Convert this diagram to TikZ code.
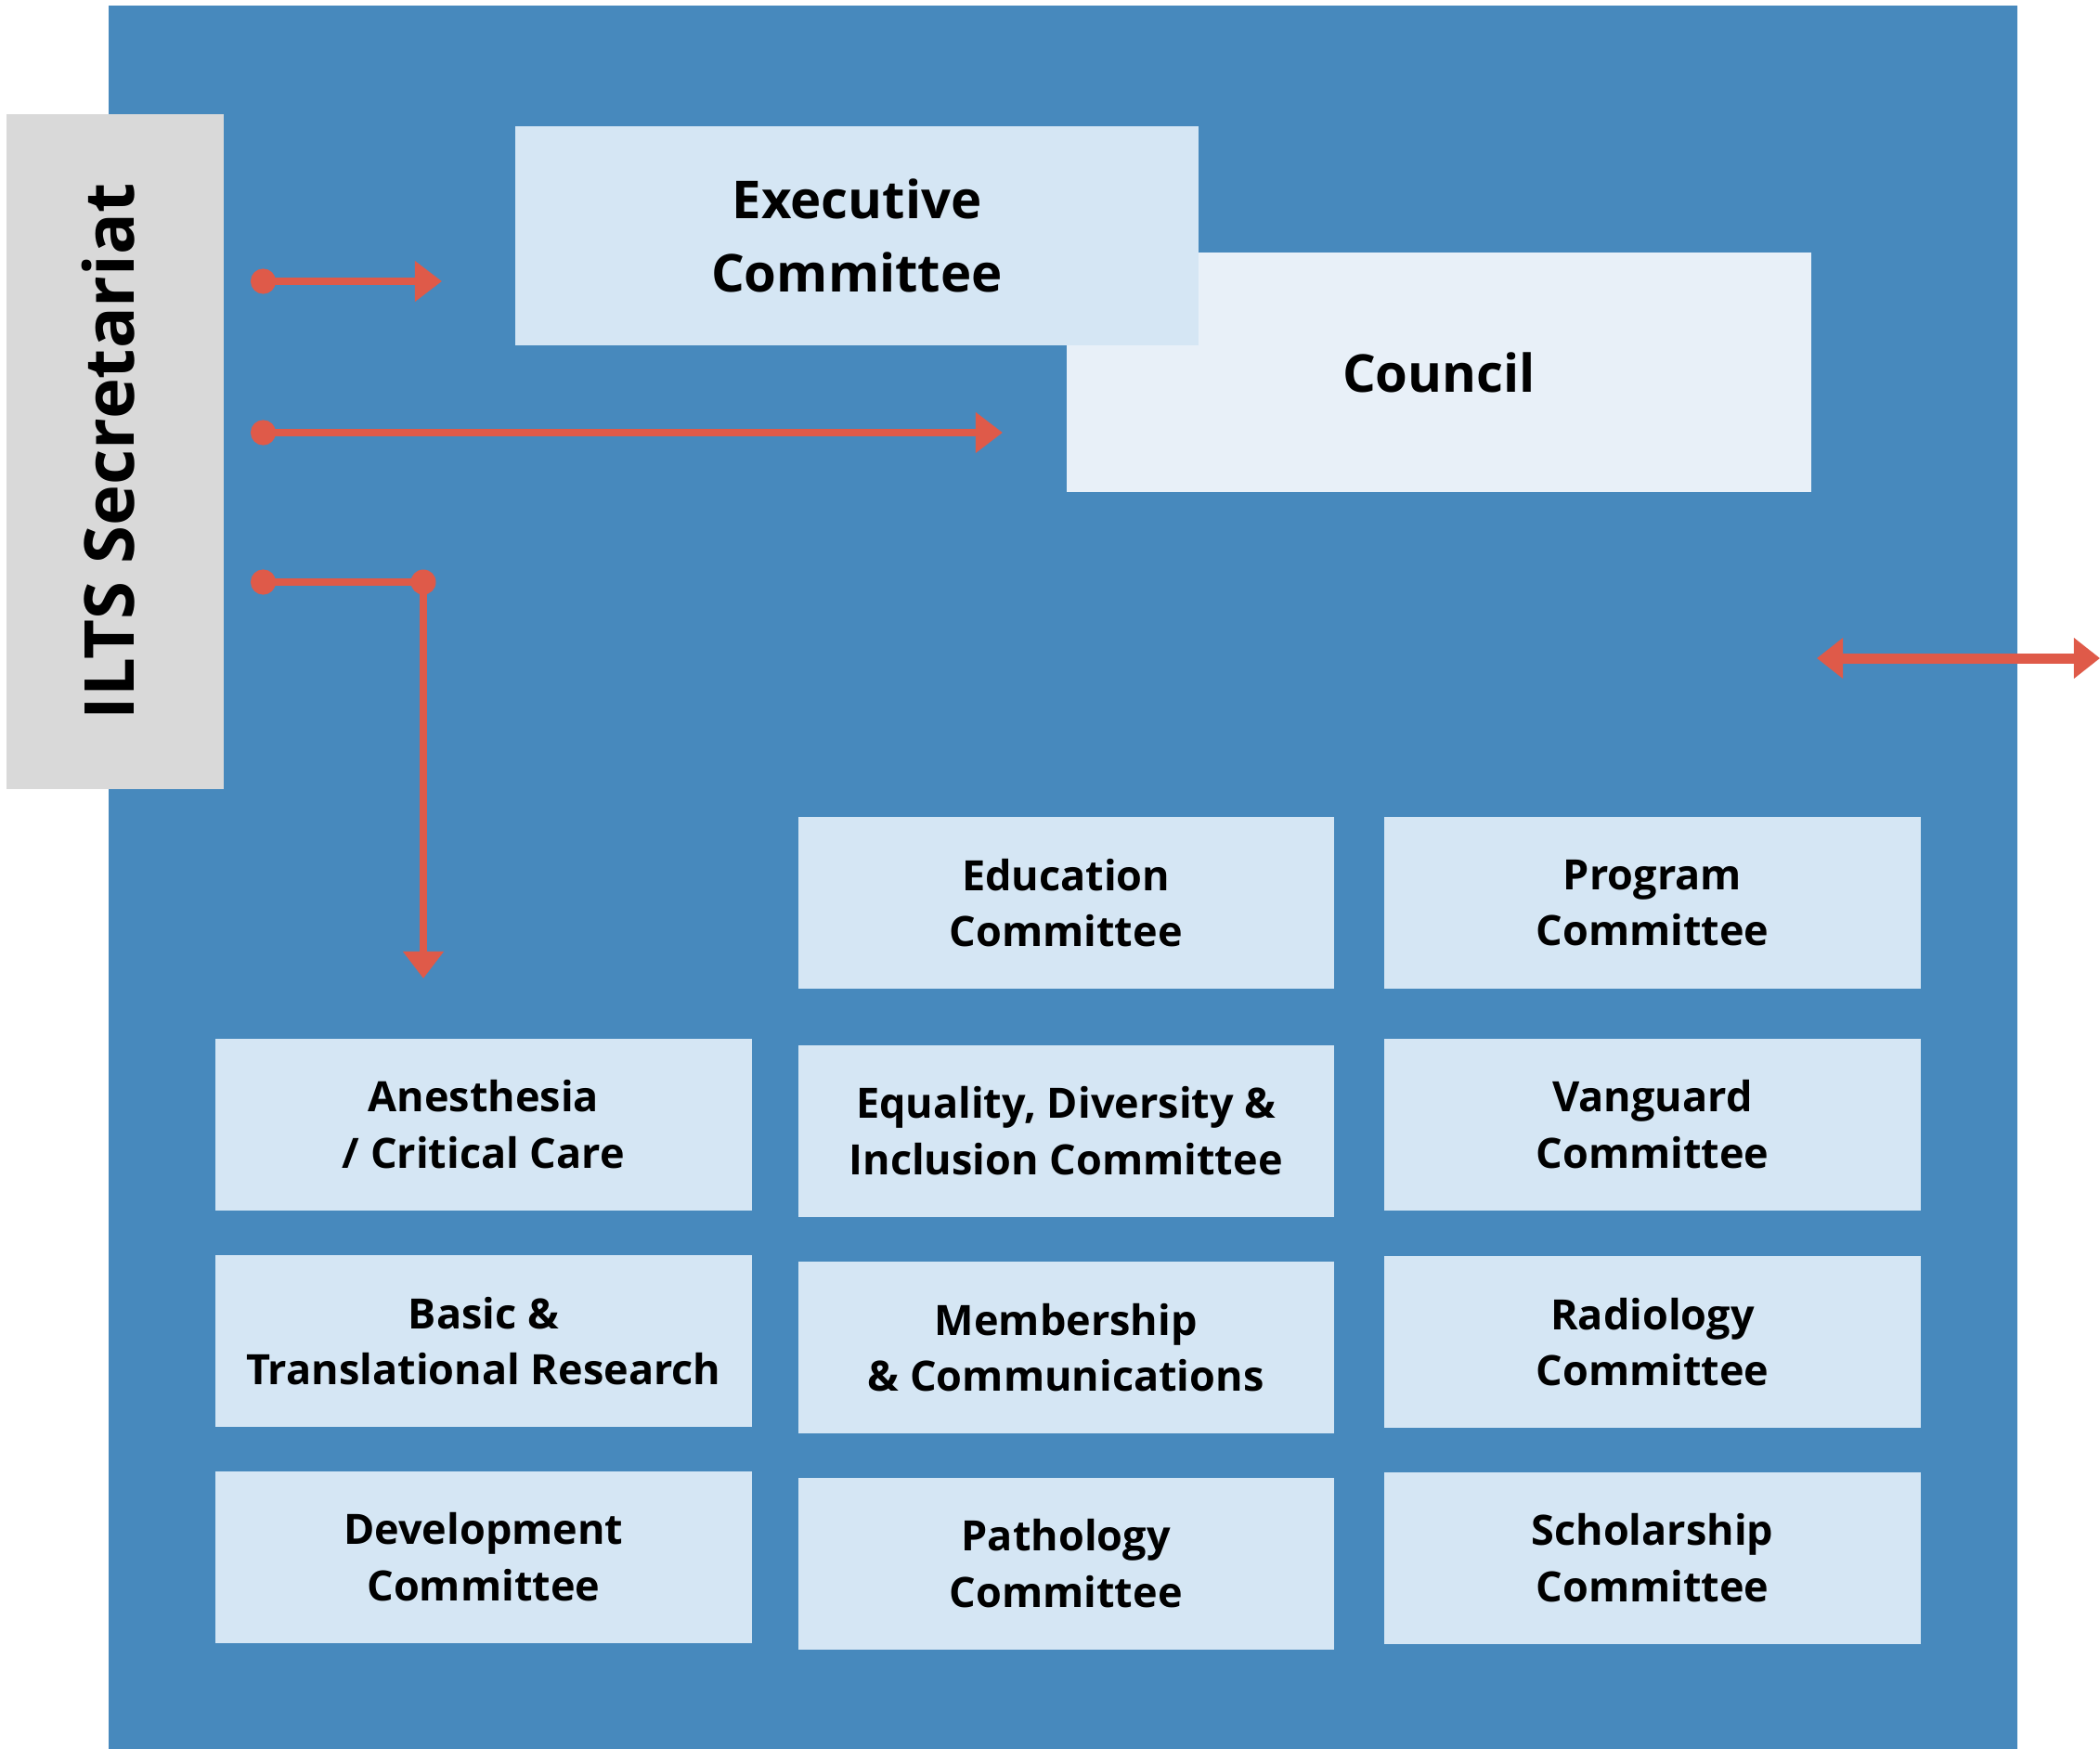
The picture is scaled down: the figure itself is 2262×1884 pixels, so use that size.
\documentclass[tikz,border=0pt]{standalone}
\usepackage{fontspec}
\setmainfont{Open Sans}
\usepackage{xcolor}
\usepackage{tikz}
\usetikzlibrary{positioning, arrows.meta}

\definecolor{panelblue}{RGB}{71,137,189}
\definecolor{boxblue}{RGB}{213,230,244}
\definecolor{councilblue}{RGB}{232,240,248}
\definecolor{secgray}{RGB}{217,217,217}
\definecolor{linkred}{RGB}{223,90,73}

\begin{document}
\begin{tikzpicture}[x=0.01cm, y=-0.01cm,
    committee/.style={rectangle, fill=boxblue, text centered, align=center, inner sep=0pt, minimum width=5.77cm, minimum height=1.85cm, font=\bfseries\fontsize{12.8}{17.1}\selectfont},
    board/.style={rectangle, text centered, align=center, inner sep=0pt, font=\bfseries\fontsize{16}{22.5}\selectfont},
    line/.style={draw=linkred, line width=0.85mm, {Circle[length=2.7mm, width=2.7mm]}-{Triangle[length=2.9mm, width=4.2mm]}},
    both/.style={draw=linkred, line width=1.1mm, {Triangle[length=2.8mm, width=4.2mm]}-{Triangle[length=2.8mm, width=4.2mm]}},
    dot/.style={circle, fill=linkred, inner sep=0pt, minimum size=2.7mm}]

    \useasboundingbox (0,0) rectangle (2262,1884);
    \fill[white] (0,0) rectangle (2262,1884);

    % Panel and secretariat
    \node [fill=panelblue, inner sep=0pt, minimum width=20.54cm, minimum height=18.77cm] (panel) at (1145,945.5) {};
    \node [fill=secgray, inner sep=0pt, rotate=90, minimum width=7.27cm, minimum height=2.34cm, text depth=1.6mm, font=\bfseries\fontsize{21.1}{26}\selectfont] (secretariat) at (124,486.5) {ILTS Secretariat};

    % Council and executive
    \node [board, fill=councilblue, minimum width=8.02cm, minimum height=2.58cm] (council) at (1550,401) {Council};
    \node [board, fill=boxblue, minimum width=7.36cm, minimum height=2.36cm] (executive) at (923,254) {Executive\\Committee};

    % Committees
    \node [committee] (program) at (1780,972.5) {Program\\Committee};
    \node [committee, below=0.52cm of program] (vanguard) {Vanguard\\Committee};
    \node [committee, below=0.48cm of vanguard] (radiology) {Radiology\\Committee};
    \node [committee, below=0.46cm of radiology] (scholarship) {Scholarship\\Committee};

    \node [committee, left=0.53cm of program] (education) {Education\\Committee};
    \node [committee, below=0.59cm of education] (equality) {Equality, Diversity \&\\Inclusion Committee};
    \node [committee, below=0.47cm of equality] (membership) {Membership\\\& Communications};
    \node [committee, below=0.46cm of membership] (pathology) {Pathology\\Committee};

    \node [committee, left=6.80cm of vanguard] (anesthesia) {Anesthesia\\/ Critical Care};
    \node [committee, below=0.47cm of anesthesia] (basic) {Basic \&\\Translational Research};
    \node [committee, below=0.46cm of basic] (development) {Development\\Committee};

    % Connectors
    \coordinate (a1s) at (270,303);
    \coordinate (a1e) at (476,303);
    \coordinate (a2s) at (270,466);
    \coordinate (a2e) at (1080,466);
    \coordinate (a3s) at (270,627);
    \node [dot] (a3k) at (456,627) {};
    \coordinate (a3e) at (456,1054);
    \coordinate (c1) at (1957,709);
    \coordinate (c2) at (2262,709);

    \path [line] (a1s) -- (a1e);
    \path [line] (a2s) -- (a2e);
    \path [line] (a3s) -- (a3k.center) -- (a3e);
    \path [both] (c1) -- (c2);

\end{tikzpicture}
\end{document}
